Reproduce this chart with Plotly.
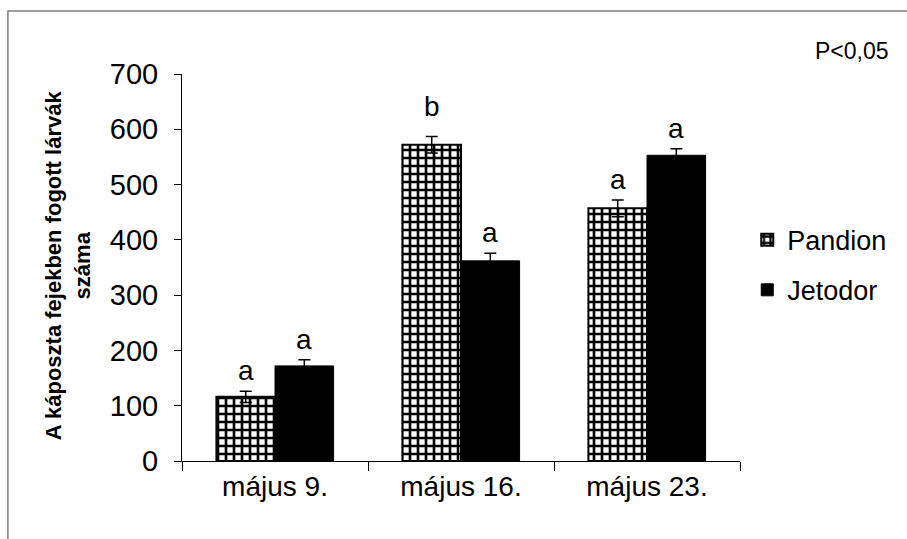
import plotly.graph_objects as go

# Larvae counted in cabbage heads, by sampling date and variety
dates = ["május 9.", "május 16.", "május 23."]
pandion = [116, 572, 457]
pandion_err = [10, 15, 15]
jetodor = [172, 362, 553]
jetodor_err = [11, 14, 12]
pandion_letters = ["a", "b", "a"]
jetodor_letters = ["a", "a", "a"]
y_ticks = [0, 100, 200, 300, 400, 500, 600, 700]

FONT = "Arial, Liberation Sans, sans-serif"

fig = go.Figure()

fig.add_trace(go.Bar(
    name="Pandion", x=dates, y=pandion, legendgroup="p",
    error_y=dict(type="data", array=pandion_err, color="black", thickness=1.5, width=6),
    marker=dict(color="white", line=dict(color="black", width=2),
                pattern=dict(shape="+", size=8, solidity=0.55,
                             fgcolor="black", bgcolor="white", fillmode="replace")),
))
fig.add_trace(go.Bar(
    name="Jetodor", x=dates, y=jetodor, legendgroup="j",
    error_y=dict(type="data", array=jetodor_err, color="black", thickness=1.5, width=6),
    marker=dict(color="black", line=dict(color="black", width=1)),
))

# significance letters above each bar
for i, d in enumerate(dates):
    for vals, errs, letters, off in ((pandion, pandion_err, pandion_letters, -0.5),
                                     (jetodor, jetodor_err, jetodor_letters, 0.5)):
        fig.add_annotation(
            x=i + off * 0.315, y=vals[i] + errs[i], xref="x", yref="y",
            text=letters[i], showarrow=False, yanchor="bottom",
            yshift=12 if letters[i] == "b" else 3,
            font=dict(family=FONT, size=28, color="black"),
        )

fig.add_annotation(
    x=1.2, y=1.06, xref="paper", yref="paper", text="P<0,05",
    showarrow=False, xanchor="center", yanchor="middle",
    font=dict(family=FONT, size=23, color="black"),
)

fig.add_annotation(
    x=-0.205, y=0.505, xref="paper", yref="paper",
    text="<b>A káposzta fejekben fogott lárvák<br>száma</b>",
    textangle=-90, showarrow=False, xanchor="center", yanchor="middle",
    font=dict(family=FONT, size=22, color="black"),
)

# outer frame of the chart area
fig.add_shape(type="rect", xref="paper", yref="paper",
              x0=-0.312, x1=2.0, y0=-2.0, y1=1.163,
              line=dict(color="#808080", width=1.5), fillcolor="rgba(0,0,0,0)", layer="below")

fig.update_layout(
    width=907, height=539,
    margin=dict(l=182, r=167, t=74, b=78),
    paper_bgcolor="white", plot_bgcolor="white",
    barmode="group", bargap=0.37, bargroupgap=0,
    font=dict(family=FONT, color="black"),
    legend=dict(x=1.013, y=0.506, xanchor="left", yanchor="middle",
                traceorder="grouped", tracegroupgap=12,
                font=dict(family=FONT, size=27, color="black"),
                bgcolor="rgba(0,0,0,0)"),
    xaxis=dict(type="category", showline=True, linecolor="black", linewidth=1,
               ticks="outside", tickson="boundaries", ticklen=9, tickcolor="black",
               tickfont=dict(family=FONT, size=28, color="black"),
               showgrid=False, zeroline=False),
    yaxis=dict(range=[0, 700], tickvals=y_ticks, showline=True, linecolor="black",
               linewidth=1, ticks="outside", ticklen=7, tickcolor="black",
               tickfont=dict(family=FONT, size=29, color="black"),
               ticklabelstandoff=10, showgrid=False, zeroline=False),
)

fig.write_html("out.html")
